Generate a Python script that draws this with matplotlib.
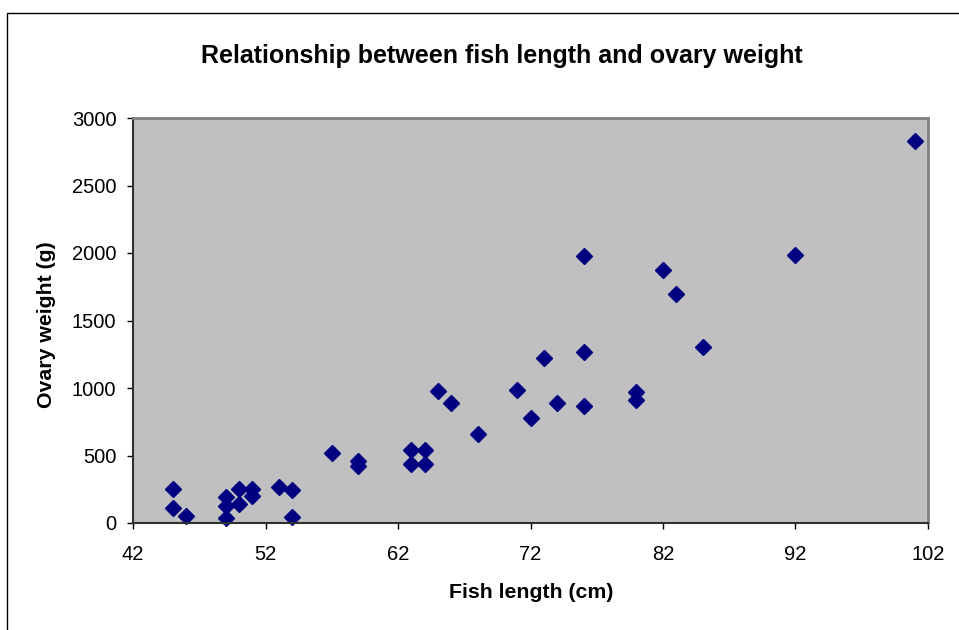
import matplotlib.pyplot as plt
import matplotlib.ticker as ticker
from matplotlib.patches import Rectangle

# fish length (cm) and ovary weight (g)
fishLength = [45, 45, 46, 49, 49, 49, 50, 50, 51, 51, 53, 54, 54, 57, 59, 59,
              63, 64, 63, 64, 65, 66, 68, 71, 72, 73, 74, 76, 76, 76, 80, 80,
              82, 83, 85, 92, 101]
ovaryWeight = [250, 110, 55, 190, 125, 40, 250, 140, 250, 200, 265, 245, 45, 515, 460, 425,
               540, 540, 435, 435, 980, 890, 660, 985, 775, 1225, 890, 1975, 1265, 870, 970, 910,
               1875, 1700, 1305, 1985, 2830]

xTicks = [42, 52, 62, 72, 82, 92, 102]
yTicks = [0, 500, 1000, 1500, 2000, 2500, 3000]

plt.rcParams['font.family'] = ['Liberation Sans', 'DejaVu Sans']

f = plt.figure(figsize=(9.59, 6.3), dpi=100)
ax = f.add_axes([133/959, 1 - 523/630, 795/959, 405/630])

# outer chart border
f.patches.append(Rectangle((7/959, -0.5), 2, 1.5 - 13/630, transform=f.transFigure,
                           fill=False, edgecolor='black', linewidth=1))

ax.set_facecolor('#C0C0C0')
ax.plot(fishLength, ovaryWeight, linestyle='none', marker='D', markersize=8,
        color='#000080', markeredgecolor='#000080', clip_on=False)

ax.set_xlim(42, 102)
ax.set_ylim(0, 3000)
ax.xaxis.set_major_locator(ticker.FixedLocator(xTicks))
ax.yaxis.set_major_locator(ticker.FixedLocator(yTicks))

ax.spines['top'].set_color('#808080')
ax.spines['right'].set_color('#808080')
ax.spines['top'].set_linewidth(2)
ax.spines['right'].set_linewidth(2)
ax.spines['left'].set_color('#303030')
ax.spines['bottom'].set_color('#303030')
ax.spines['left'].set_linewidth(1.5)
ax.spines['bottom'].set_linewidth(1.5)

ax.tick_params(axis='x', direction='out', length=4.5, width=1, labelsize=14.5, pad=11.5)
ax.tick_params(axis='y', direction='out', length=4.5, width=1, labelsize=14.5, pad=7.5)

f.text(0.523, 1 - 56/630, 'Relationship between fish length and ovary weight',
       ha='center', va='center', fontsize=18, fontweight='bold')
f.text(531/959, 1 - 592/630, 'Fish length (cm)', ha='center', va='center',
       fontsize=15.3, fontweight='bold')
f.text(47/959, 1 - 325/630, 'Ovary weight (g)', ha='center', va='center',
       rotation='vertical', fontsize=15.3, fontweight='bold')

plt.savefig('out.png', dpi=100)
